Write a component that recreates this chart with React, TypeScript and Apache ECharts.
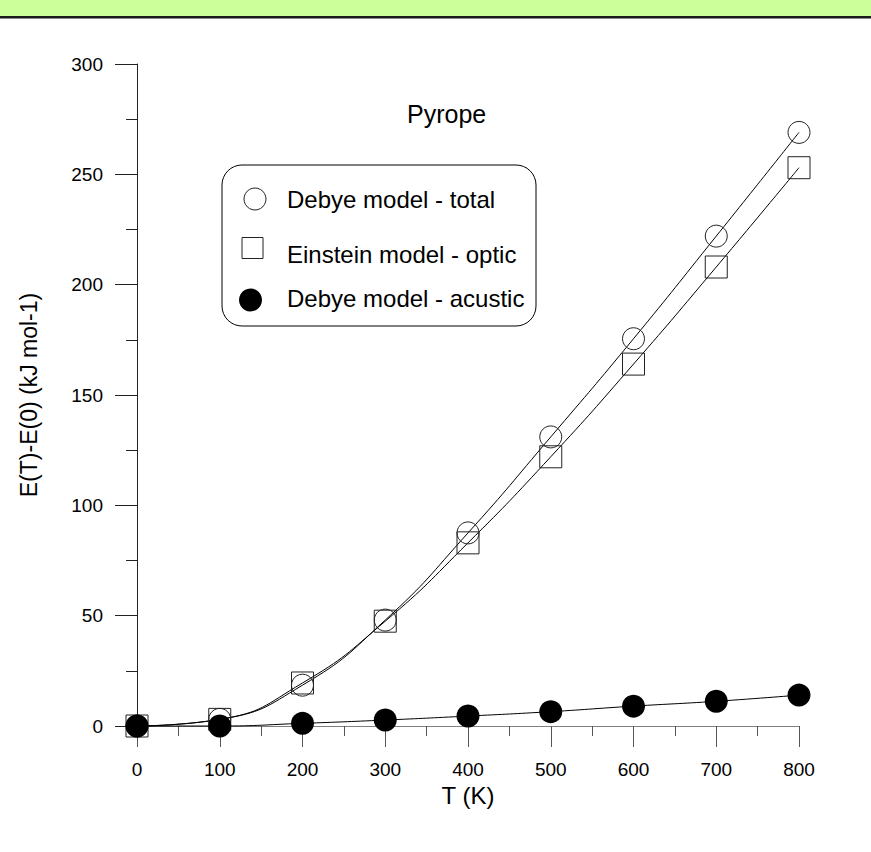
import React, { useEffect, useRef } from "react";
import * as echarts from "echarts";

const temperatures = [0, 100, 200, 300, 400, 500, 600, 700, 800];
const debyeTotal = [0, 3, 18.5, 48, 87.5, 131, 175.5, 222, 269];
const einsteinOptic = [0, 3, 19.5, 47.5, 83, 122, 164, 208, 253];
const debyeAcustic = [0, 0, 1.2, 2.7, 4.5, 6.5, 9, 11.2, 14];

const legendLabels = ["Debye model - total", "Einstein model - optic", "Debye model - acustic"];
const chartTitle = "Pyrope";
const xTitle = "T (K)";
const yTitle = "E(T)-E(0) (kJ mol-1)";

const FONT = "Liberation Sans, Arial, sans-serif";

function pairs(ys: number[]) {
  return temperatures.map((t, i) => [t, ys[i]]);
}

export default function App() {
  const ref = useRef<HTMLDivElement>(null);
  useEffect(() => {
    if (!ref.current) return;
    const chart = echarts.init(ref.current, undefined, { renderer: "svg" });
    const baseSeries = {
      type: "line" as const,
      smooth: 0.5,
      clip: false,
      lineStyle: { color: "#000", width: 1 },
      symbolSize: 22,
    };
    chart.setOption({
      animation: false,
      backgroundColor: "#fff",
      grid: { left: 137, top: 64, width: 662, height: 662, containLabel: false },
      xAxis: {
        type: "value",
        min: 0,
        max: 800,
        interval: 100,
        name: xTitle,
        nameLocation: "middle",
        nameGap: 55,
        nameTextStyle: { fontFamily: FONT, fontSize: 24, color: "#000" },
        axisLine: { show: true, onZero: false, lineStyle: { color: "#7f7f7f", width: 1 } },
        axisTick: { show: true, inside: false, length: 21, lineStyle: { color: "#555", width: 1 } },
        minorTick: { show: true, splitNumber: 2, length: 10, lineStyle: { color: "#555", width: 1 } },
        axisLabel: { margin: 34, fontFamily: FONT, fontSize: 19, color: "#000" },
        splitLine: { show: false },
      },
      yAxis: {
        type: "value",
        min: 0,
        max: 300,
        interval: 50,
        name: yTitle,
        nameLocation: "middle",
        nameGap: 97,
        nameTextStyle: { fontFamily: FONT, fontSize: 23, color: "#000" },
        axisLine: { show: true, onZero: false, lineStyle: { color: "#222", width: 1 } },
        axisTick: { show: true, inside: false, length: 22, lineStyle: { color: "#222", width: 1 } },
        minorTick: { show: true, splitNumber: 2, length: 11, lineStyle: { color: "#222", width: 1 } },
        axisLabel: { margin: 34, fontFamily: FONT, fontSize: 19, color: "#000" },
        splitLine: { show: false },
      },
      series: [
        {
          ...baseSeries,
          name: legendLabels[1],
          symbol: "rect",
          symbolSize: 22,
          itemStyle: { color: "rgba(0,0,0,0)", borderColor: "#222", borderWidth: 1 },
          data: pairs(einsteinOptic),
        },
        {
          ...baseSeries,
          name: legendLabels[0],
          symbol: "circle",
          symbolSize: 22,
          itemStyle: { color: "rgba(0,0,0,0)", borderColor: "#222", borderWidth: 1 },
          data: pairs(debyeTotal),
        },
        {
          ...baseSeries,
          name: legendLabels[2],
          symbol: "circle",
          symbolSize: 23,
          itemStyle: { color: "#000", borderColor: "#000", borderWidth: 0 },
          data: pairs(debyeAcustic),
        },
      ],
      graphic: [
        { type: "rect", shape: { x: 0, y: 0, width: 871, height: 16 }, style: { fill: "#ccff99" }, silent: true },
        { type: "rect", shape: { x: 0, y: 16, width: 871, height: 2 }, style: { fill: "#1a1a1a" }, silent: true },
        { type: "rect", shape: { x: 0, y: 18, width: 871, height: 1 }, style: { fill: "#888" }, silent: true },
        {
          type: "text",
          left: 407,
          top: 101,
          style: { text: chartTitle, fontFamily: FONT, fontSize: 25, fill: "#000" },
        },
        {
          type: "rect",
          shape: { x: 222, y: 165, width: 314, height: 161, r: 20 },
          style: { fill: "#fff", stroke: "#000", lineWidth: 1 },
          z: 10,
        },
        {
          type: "circle",
          shape: { cx: 255, cy: 199, r: 11 },
          style: { fill: "#fff", stroke: "#222", lineWidth: 1 },
          z: 11,
        },
        {
          type: "rect",
          shape: { x: 242, y: 237.5, width: 21, height: 21 },
          style: { fill: "#fff", stroke: "#222", lineWidth: 1 },
          z: 11,
        },
        {
          type: "circle",
          shape: { cx: 250.5, cy: 300, r: 11.5 },
          style: { fill: "#000" },
          z: 11,
        },
        {
          type: "text",
          x: 287,
          y: 199,
          style: { text: legendLabels[0], fontFamily: FONT, fontSize: 24, fill: "#000", verticalAlign: "middle" },
          z: 11,
        },
        {
          type: "text",
          x: 287,
          y: 254.5,
          style: { text: legendLabels[1], fontFamily: FONT, fontSize: 24, fill: "#000", verticalAlign: "middle" },
          z: 11,
        },
        {
          type: "text",
          x: 287,
          y: 298,
          style: { text: legendLabels[2], fontFamily: FONT, fontSize: 24, fill: "#000", verticalAlign: "middle" },
          z: 11,
        },
      ],
    });
    return () => chart.dispose();
  }, []);
  return (
    <div
      ref={ref}
      style={{ position: "absolute", left: 0, top: 0, width: 871, height: 852 }}
    />
  );
}
